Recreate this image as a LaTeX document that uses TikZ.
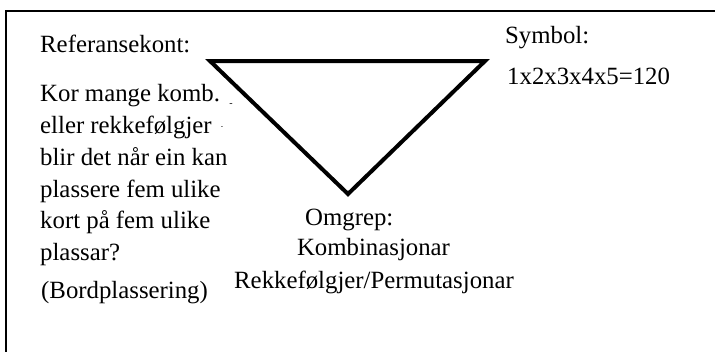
\documentclass[tikz,border=0pt]{standalone}
\usepackage{fontspec}
\setmainfont{Liberation Serif}

\begin{document}
\begin{tikzpicture}[x=1pt,y=-1pt,
    txt/.style={inner sep=0pt, anchor=base west, font=\fontsize{24.8}{31.8}\selectfont},
    mid/.style={txt, anchor=base},
    side/.style={line width=4pt, line join=miter}]
  \useasboundingbox (0,0) rectangle (715,351);
  % frame (only top and left edge are inside the page)
  \draw[line width=2.5pt] (6,352) -- (6,11) -- (716,11);

  % the triangle
  \coordinate (ref) at (210,61);
  \coordinate (sym) at (485,61);
  \coordinate (omg) at (348,194);
  \draw[side] (ref) -- (sym) -- (omg) -- cycle;

  % reference corner
  \node[txt] (referanse) at (40,52.7) {Referansekont:};
  \foreach \i/\t in {0/Kor mange komb., 1/eller rekkefølgjer, 2/blir det når ein kan,
                     3/plassere fem ulike, 4/kort på fem ulike, 5/plassar?} {
    \node[txt] (q\i) at (40,101.7+31.8*\i) {\t};
  }
  \node[txt] (bord) at (41,298.3) {(Bordplassering)};
  \node[inner sep=0pt, font=\fontsize{10}{10}\selectfont] (strek1) at (231,105) {-};
  \node[inner sep=0pt, font=\fontsize{7}{7}\selectfont] (strek2) at (222,127.5) {-};

  % symbol corner
  \node[txt] (symbol) at (505,43.3) {Symbol:};
  \node[txt] (produkt) at (507,84.3) {1x2x3x4x5=120};

  % concept corner
  \node[txt] (omgrep) at (305,225) {Omgrep:};
  \node[mid] (kombi) at (373.5,255) {Kombinasjonar};
  \node[mid] (rekke) at (374,288.3) {Rekkefølgjer/Permutasjonar};
\end{tikzpicture}
\end{document}
